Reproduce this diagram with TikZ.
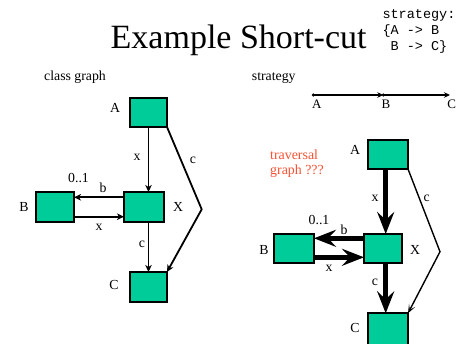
\documentclass[tikz,border=0pt]{standalone}
\usepackage{fontspec}
\setmainfont{Liberation Serif}
\setmonofont{Liberation Mono}
\usetikzlibrary{arrows.meta}
\definecolor{boxgreen}{RGB}{0,204,153}
\definecolor{travred}{RGB}{250,80,50}
\begin{document}
\begin{tikzpicture}[x=1pt,y=-1pt,
  cls/.style={draw=black,fill=boxgreen,line width=#1,inner sep=0pt,outer sep=0pt},
  lbl/.style={inner sep=0pt,font=\fontsize{13.8}{16}\selectfont},
  rlbl/.style={inner sep=0pt,font=\fontsize{13.8}{16}\selectfont},
  slbl/.style={inner sep=0pt,font=\fontsize{13}{15}\selectfont},
  hdr/.style={inner sep=0pt,anchor=base west,font=\fontsize{13.8}{16}\selectfont},
  trav/.style={inner sep=0pt,anchor=base west,text=travred,font=\fontsize{13.9}{16}\selectfont},
  thinarr/.style={line width=1.8pt,-{Stealth[length=7pt,width=6.5pt,inset=2pt]}},
  boldarr/.style={line width=4.5pt,-{Stealth[length=22pt,width=17pt,inset=8pt]}},
  caret/.style={line width=1.4pt,-{Stealth[length=9pt,width=7pt,inset=5pt]}},
  strarr/.style={line width=1.6pt,-{Stealth[length=6pt,width=5.5pt,inset=2pt]}},
  codetext/.style={inner sep=0pt,anchor=base west,font=\ttfamily\fontsize{13.5}{16}\selectfont}]
\useasboundingbox (0,0) rectangle (458,343);
\fill[white] (0,0) rectangle (458,343);

% title and code
\node[inner sep=0pt,anchor=base west,font=\fontsize{34}{40}\selectfont] (title) at (110.5,48) {Example Short-cut};
\node[codetext] (code1) at (382.3,18) {strategy:};
\node[codetext] (code2) at (382.3,34.5) {\{A -> B};
\node[codetext] (code3) at (382.3,50.5) {\ B -> C\}};

% headers
\node[hdr] (hdrL) at (44,80.3) {class graph};
\node[hdr] (hdrR) at (251.7,80.3) {strategy};

% ---------- left: class graph ----------
\node[cls=1.8pt,minimum width=37pt,minimum height=29pt] (lA) at (148.5,112.5) {};
\node[cls=1.8pt,minimum width=40pt,minimum height=30pt] (lX) at (144,207) {};
\node[cls=1.8pt,minimum width=38pt,minimum height=30pt] (lB) at (55,207) {};
\node[cls=1.8pt,minimum width=37pt,minimum height=30pt] (lC) at (148.5,287) {};
\node[lbl] (lAl) at (115,108) {A};
\node[lbl] (lXl) at (178,207) {X};
\node[lbl] (lBl) at (24,207) {B};
\node[lbl] (lCl) at (114,285) {C};
\coordinate (lcorner) at (201.7,209.3);

\draw[thinarr] (lA.south) -- (lA.south |- lX.north);
\draw[thinarr] (lC.north |- lX.south) -- (lC.north);
\draw[thinarr] (lX.west |- 0,197.3) -- (lB.east |- 0,197.3);
\draw[thinarr] (lB.east |- 0,216.7) -- (lX.west |- 0,216.7);
\draw[thinarr] (lA.south east) -- (lcorner) -- (lC.north east);

\node[lbl] (lx1) at (137,157) {x};
\node[lbl] (lc1) at (193,160) {c};
\node[lbl] (lb) at (103,188) {b};
\node[lbl] (l01) at (78.5,178) {0..1};
\node[lbl] (lx2) at (99,227) {x};
\node[lbl] (lc2) at (142,244) {c};

% ---------- right: strategy ----------
\coordinate (sA) at (313.3,95);
\coordinate (sB) at (383.3,95);
\coordinate (sC) at (450,95);
\fill (sA) circle (1.7pt);
\fill (sB) circle (1.7pt);
\draw[strarr] (sA) -- (sB);
\draw[strarr] (sB) -- (sC);
\node[slbl] (sAl) at (316.7,104) {A};
\node[slbl] (sBl) at (386,104) {B};
\node[slbl] (sCl) at (451.7,104) {C};

\node[trav] (trav1) at (270,159.5) {traversal};
\node[trav] (trav2) at (270,174) {graph ???};

\node[cls=2.2pt,minimum width=40pt,minimum height=29pt] (rA) at (388,154.5) {};
\node[cls=2.2pt,minimum width=38pt,minimum height=29pt] (rX) at (383,248.5) {};
\node[cls=2.2pt,minimum width=40pt,minimum height=29pt] (rB) at (294,248.5) {};
\node[cls=2.2pt,minimum width=40pt,minimum height=36pt] (rC) at (388,331.3) {};
\node[rlbl] (rAl) at (355,150) {A};
\node[rlbl] (rXl) at (415,250) {X};
\node[rlbl] (rBl) at (264,250) {B};
\node[rlbl] (rCl) at (355,328) {C};
\coordinate (rcorner) at (440,251.7);

\draw[boldarr] (385.7,0 |- rA.south) -- (385.7,0 |- rX.north);
\draw[boldarr] (385.7,0 |- rX.south) -- (385.7,0 |- rC.north);
\draw[boldarr] (rX.west |- 0,238.3) -- (rB.east |- 0,238.3);
\draw[boldarr] (rB.east |- 0,257.3) -- (rX.west |- 0,257.3);
\draw[caret] (rA.south east) -- (rcorner) -- (rC.north east);

\node[rlbl] (rx1) at (375,198) {x};
\node[rlbl] (rc1) at (426.7,198) {c};
\node[rlbl] (r01) at (319,220) {0..1};
\node[rlbl] (rb) at (344,230) {b};
\node[rlbl] (rx2) at (329,268) {x};
\node[rlbl] (rc2) at (375,282) {c};
\end{tikzpicture}
\end{document}
